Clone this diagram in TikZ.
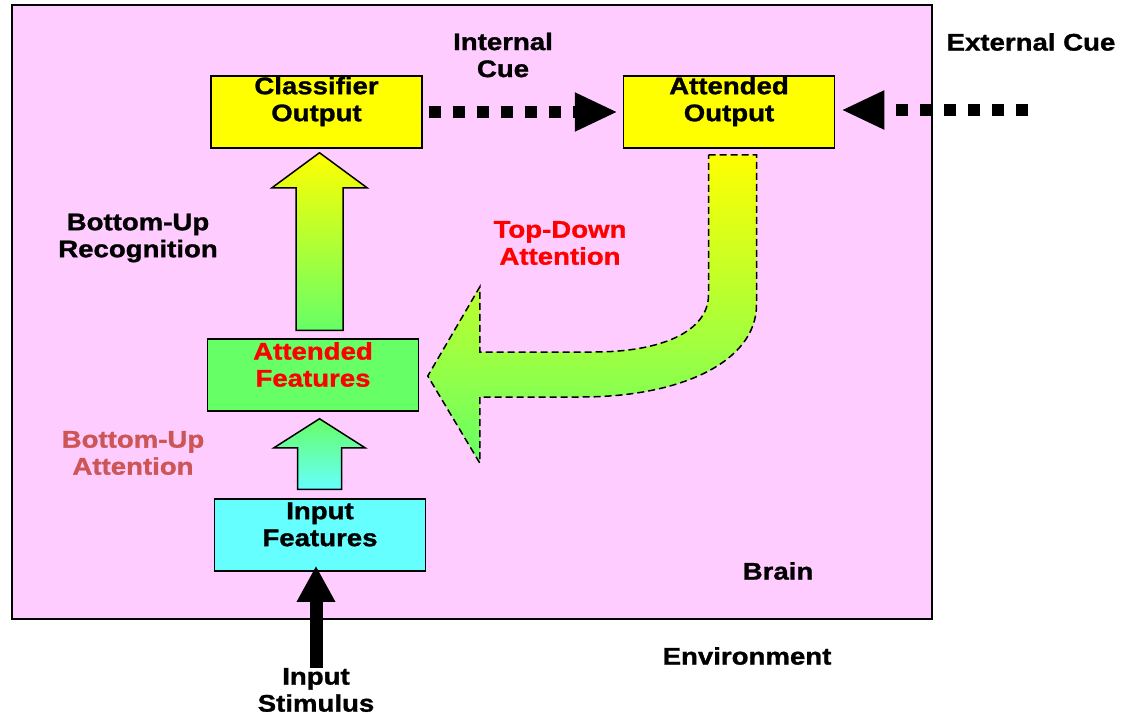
\documentclass[tikz,border=0pt]{standalone}
\usepackage{fontspec}
\setmainfont[FakeStretch=1.15, BoldFeatures={FakeBold=1.2}]{Liberation Sans}
\usetikzlibrary{positioning,calc,arrows.meta}

\definecolor{brainpink}{HTML}{FFCCFF}
\definecolor{outyellow}{HTML}{FFFF00}
\definecolor{featgreen}{HTML}{66FF66}
\definecolor{incyan}{HTML}{66FFFF}
\definecolor{buattn}{HTML}{CC5555}

\tikzset{
	box/.style={draw, line width=1.5pt, minimum width=211pt, minimum height=72pt, inner sep=0pt},
	boxtext/.style={align=center, inner sep=0pt},
	txt/.style={align=center, inner sep=0pt},
	cue/.style={line width=12pt, dash pattern=on 12pt off 12pt, -{Triangle[length=43pt,width=36pt]}},
	fat/.style={draw, line width=1.5pt},
}

\begin{document}
\begin{tikzpicture}[x=1pt, y=-1pt, font=\fontsize{24}{27}\selectfont\bfseries]
	\useasboundingbox (0,0) rectangle (1122,717);

	% the brain
	\draw[line width=1.5pt, fill=brainpink] (12,5) rectangle (932,619);

	% boxes
	\node[box, fill=outyellow] (clsout) at (316.5,112) {};
	\node[box, fill=outyellow, right=200pt of clsout] (attout) {};
	\node[box, fill=featgreen] (attf) at (313,375) {};
	\node[box, fill=incyan] (inf) at (320,535) {};

	\node[boxtext] at ([yshift=10.5pt]clsout.center) {Classifier\\Output};
	\node[boxtext] at ([yshift=10.5pt]attout.center) {Attended\\Output};
	\node[boxtext, text=red] at ([yshift=10.5pt]attf.center) {Attended\\Features};
	\node[boxtext] at ([yshift=10.5pt]inf.center) {Input\\Features};

	% labels
	\node[txt] (intcue) at (503,55) {Internal\\Cue};
	\node[txt] (extcue) at (1031,42) {External Cue};
	\node[txt] (bureco) at (138,238) {Bottom-Up\\Recognition};
	\node[txt, text=buattn] (buattn) at (133,453) {Bottom-Up\\Attention};
	\node[txt, text=red] (tdattn) at (560,243) {Top-Down\\Attention};
	\node[txt] (brain) at (778,571) {Brain};
	\node[txt] (env) at (747,656) {Environment};
	\node[txt] (stim) at (316,690) {Input\\Stimulus};

	% cues
	\coordinate (extsrc) at (1028,110);
	\draw[cue] ([xshift=6pt]clsout.east) -- ([xshift=-5pt]attout.west);
	\draw[cue] (extsrc) -- ([xshift=6pt]attout.east |- extsrc);

	% stimulus
	\draw[line width=13pt, -{Triangle[length=36pt,width=36pt]}] (stim.north) -- ([yshift=6pt]stim.north |- inf.south);

	% bottom-up recognition
	\coordinate (t1) at ([xshift=3pt,yshift=-4pt]clsout.south);
	\coordinate (b1) at ([yshift=8pt]t1 |- attf.north);
	\path[fat, top color=outyellow, bottom color=featgreen]
		($(b1)+(-23.5,0)$) -- ($(t1)+(-23.5,35)$) -- ($(t1)+(-47.5,35)$) -- (t1)
		-- ($(t1)+(47.5,35)$) -- ($(t1)+(23.5,35)$) -- ($(b1)+(23.5,0)$) -- cycle;

	% bottom-up attention
	\coordinate (t2) at ([yshift=-7pt]t1 |- attf.south);
	\coordinate (b2) at ([yshift=9pt]t1 |- inf.north);
	\path[fat, top color=featgreen, bottom color=incyan]
		($(b2)+(-22,0)$) -- ($(t2)+(-22,29)$) -- ($(t2)+(-45.5,29)$) -- (t2)
		-- ($(t2)+(45.5,29)$) -- ($(t2)+(22,29)$) -- ($(b2)+(22,0)$) -- cycle;

	% top-down attention
	\coordinate (tdtop) at ([xshift=3.5pt,yshift=-6pt]attout.south);
	\coordinate (tdtip) at ([xshift=8.5pt,yshift=-1pt]attf.east);
	\path[fat, dash pattern=on 7pt off 4pt, top color=outyellow, bottom color=featgreen]
		($(tdtop)+(-24,0)$) -- ($(tdtop)+(24,0)$) -- ($(tdtop)+(24,150)$)
		.. controls ($(tdtop)+(24,207)$) and ($(tdtip)+(253,21)$) .. ($(tdtip)+(153,21)$)
		-- ($(tdtip)+(52,21)$) -- ($(tdtip)+(52,87)$) -- (tdtip) -- ($(tdtip)+(52,-89)$)
		-- ($(tdtip)+(52,-24)$) -- ($(tdtip)+(166,-24)$)
		.. controls ($(tdtip)+(233,-24)$) and ($(tdtop)+(-24,177)$) .. ($(tdtop)+(-24,140)$)
		-- cycle;
\end{tikzpicture}
\end{document}
